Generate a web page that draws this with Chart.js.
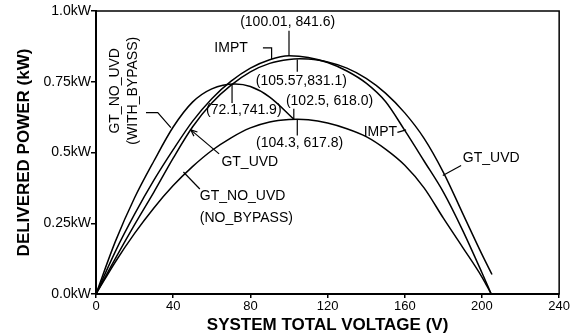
<!DOCTYPE html>
<html>
<head>
<meta charset="utf-8">
<script src="https://cdn.jsdelivr.net/npm/chart.js@4"></script>
<style>
  body { margin: 0; background: #fff; }
</style>
</head>
<body>
<canvas id="pvChart" width="571" height="336"></canvas>
<script>
// System voltage (V) vs delivered power (W)
const imptV = [0, 10, 20, 30, 40, 50, 60, 70, 80, 90, 100.01, 110, 120, 130, 140, 150, 160, 170, 180, 190, 200, 204.8];
const imptP = [0, 150, 282, 402, 510, 610, 690, 752, 798, 828, 841.6, 836, 818, 788, 745, 680, 578, 470, 360, 225, 75, 0];

const uvdV = [0, 10, 20, 30, 40, 50, 60, 70, 80, 90, 100, 105.57, 110, 120, 130, 140, 150, 160, 170, 180, 190, 200, 205.2];
const uvdP = [0, 125, 245, 360, 480, 590, 675, 738, 785, 815, 829, 831.1, 830, 820, 798, 762, 710, 640, 550, 430, 285, 140, 69];

const noBypassV = [0, 10, 20, 30, 40, 50, 60, 70, 80, 90, 100, 104.3, 110, 120, 130, 140, 150, 160, 170, 180, 190, 200, 204.8];
const noBypassP = [0, 113, 214, 304, 383, 450, 507, 552, 587, 608, 617, 617.8, 616, 604, 584, 556, 512, 455, 375, 268, 165, 60, 0];

const withBypassV = [0, 10, 20, 30, 40, 50, 60, 72.1, 80, 90, 102.5];
const withBypassP = [0, 185, 340, 470, 590, 678, 725, 741.9, 733, 696, 618.0];

const xTicks = [0, 40, 80, 120, 160, 200, 240];
const yTicks = [0, 250, 500, 750, 1000];
const yTickLabels = ['0.0kW', '0.25kW', '0.5kW', '0.75kW', '1.0kW'];

function pts(xs, ys) {
  return xs.map((x, i) => ({ x: x, y: ys[i] }));
}

// labels on the plot, placed in data units (volts, watts)
const notes = [
  { text: '(100.01, 841.6)', at: [99.3, 959], line: [[100.01, 930], [100.01, 841.6]] },
  { text: 'IMPT', at: [70, 870], line: [[86.5, 870], [91, 870], [91, 830]] },
  { text: '(105.57,831.1)', at: [106.4, 753], line: [[104.3, 785], [104.3, 829]] },
  { text: '(72.1,741.9)', at: [76.6, 648], line: [[70.5, 675], [70.5, 741]] },
  { text: '(102.5, 618.0)', at: [121, 683], line: [[102.5, 655], [102.5, 618]] },
  { text: '(104.3, 617.8)', at: [105.5, 532], line: [[104.3, 560], [104.3, 617.8]] },
  { text: 'IMPT', at: [147.4, 571], line: [[156.2, 571], [160.7, 580]] },
  { text: 'GT_UVD', at: [204.8, 479], line: [[189.2, 454], [179.7, 419]] },
  { text: 'GT_UVD', at: [79.7, 466], line: [[63.8, 495], [49.1, 580]], arrow: true },
  { text: 'GT_NO_UVD', at: [53.8, 345], align: 'left', line: [[53.8, 371], [45.3, 431]] },
  { text: '(NO_BYPASS)', at: [53.8, 269], align: 'left' },
  { text: 'GT_NO_UVD', at: [9.8, 718], rotate: true },
  { text: '(WITH_BYPASS)', at: [19.1, 718], rotate: true, line: [[25.9, 641], [32, 641], [38.8, 588]] }
];

const notesPlugin = {
  id: 'notes',
  afterDatasetsDraw(chart) {
    const { ctx, chartArea, scales: { x, y } } = chart;
    ctx.save();
    // box around the plot
    ctx.strokeStyle = '#000';
    ctx.lineWidth = 1.5;
    ctx.strokeRect(chartArea.left, chartArea.top, chartArea.right - chartArea.left, chartArea.bottom - chartArea.top);

    ctx.fillStyle = '#000';
    ctx.font = '14px "Liberation Sans", Arial, sans-serif';
    ctx.textBaseline = 'middle';
    notes.forEach(n => {
      const px = x.getPixelForValue(n.at[0]);
      const py = y.getPixelForValue(n.at[1]);
      if (n.rotate) {
        ctx.save();
        ctx.translate(px, py);
        ctx.rotate(-Math.PI / 2);
        ctx.textAlign = 'center';
        ctx.fillText(n.text, 0, 0);
        ctx.restore();
      } else {
        ctx.textAlign = n.align || 'center';
        ctx.fillText(n.text, px, py);
      }
      if (n.line) {
        ctx.lineWidth = 1.2;
        ctx.beginPath();
        n.line.forEach((p, i) => {
          const lx = x.getPixelForValue(p[0]);
          const ly = y.getPixelForValue(p[1]);
          if (i === 0) ctx.moveTo(lx, ly); else ctx.lineTo(lx, ly);
        });
        ctx.stroke();
        if (n.arrow) {
          const a = n.line[n.line.length - 2], b = n.line[n.line.length - 1];
          const ax = x.getPixelForValue(a[0]), ay = y.getPixelForValue(a[1]);
          const bx = x.getPixelForValue(b[0]), by = y.getPixelForValue(b[1]);
          const ang = Math.atan2(by - ay, bx - ax);
          ctx.beginPath();
          ctx.moveTo(bx - 7 * Math.cos(ang - 0.4), by - 7 * Math.sin(ang - 0.4));
          ctx.lineTo(bx, by);
          ctx.lineTo(bx - 7 * Math.cos(ang + 0.4), by - 7 * Math.sin(ang + 0.4));
          ctx.stroke();
        }
      }
    });
    ctx.restore();
  }
};

function curve(label, xs, ys) {
  return {
    label: label,
    data: pts(xs, ys),
    borderColor: '#000',
    borderWidth: 1.5,
    pointRadius: 0,
    fill: false,
    tension: 0.4,
    cubicInterpolationMode: 'monotone'
  };
}

const ctx = document.getElementById('pvChart').getContext('2d');
const pvChart = new Chart(ctx, {
  type: 'line',
  data: {
    datasets: [
      curve('IMPT', imptV, imptP),
      curve('GT_UVD', uvdV, uvdP),
      curve('GT_NO_UVD (NO_BYPASS)', noBypassV, noBypassP),
      curve('GT_NO_UVD (WITH_BYPASS)', withBypassV, withBypassP)
    ]
  },
  options: {
    responsive: false,
    animation: false,
    layout: { padding: { left: 11, right: 11, top: 11, bottom: 0 } },
    plugins: {
      legend: { display: false },
      tooltip: { enabled: false }
    },
    scales: {
      x: {
        type: 'linear',
        min: 0,
        max: 240,
        afterBuildTicks(scale) {
          scale.ticks = xTicks.map(v => ({ value: v }));
        },
        afterFit(scale) { scale.height = 42; },
        ticks: {
          color: '#000',
          padding: 1,
          maxRotation: 0,
          font: { family: '"Liberation Sans", Arial, sans-serif', size: 13 }
        },
        grid: { drawOnChartArea: false, color: '#000', tickLength: 4, lineWidth: 1.5 },
        border: { color: '#000', width: 2 },
        title: {
          display: true,
          text: 'SYSTEM TOTAL VOLTAGE (V)',
          color: '#000',
          padding: { top: 0, bottom: 2 },
          font: { family: '"Liberation Sans", Arial, sans-serif', size: 17, weight: 'bold', lineHeight: 1 }
        }
      },
      y: {
        min: 0,
        max: 1000,
        afterBuildTicks(scale) {
          scale.ticks = yTicks.map(v => ({ value: v }));
        },
        afterFit(scale) { scale.width = 85; },
        ticks: {
          color: '#000',
          padding: 0,
          callback: (v) => yTickLabels[yTicks.indexOf(v)],
          font: { family: '"Liberation Sans", Arial, sans-serif', size: 14 }
        },
        grid: { drawOnChartArea: false, color: '#000', tickLength: 5, lineWidth: 1.5 },
        border: { color: '#000', width: 2 },
        title: {
          display: true,
          text: 'DELIVERED POWER (kW)',
          color: '#000',
          padding: { top: 5, bottom: 0 },
          font: { family: '"Liberation Sans", Arial, sans-serif', size: 17, weight: 'bold', lineHeight: 1 }
        }
      }
    }
  },
  plugins: [notesPlugin]
});
</script>
</body>
</html>
